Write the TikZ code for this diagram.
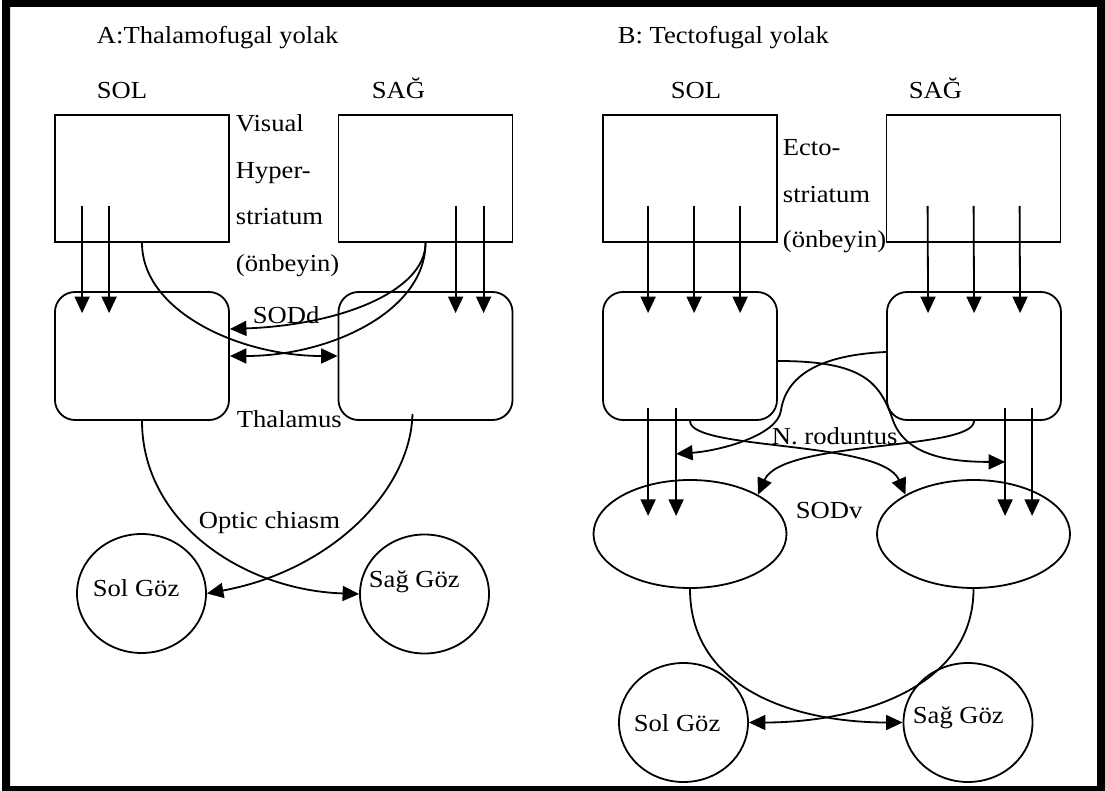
\documentclass[tikz,border=0pt]{standalone}
\usepackage{graphicx}
\usepackage{fontspec}
\setmainfont{Liberation Serif}
\usetikzlibrary{arrows.meta,calc,shapes.geometric}
% labels are set slightly condensed vertically
\newcommand{\sq}[1]{\scalebox{1}[0.92]{#1}}

\begin{document}
\begin{tikzpicture}[x=1pt,y=-1pt,line width=1.8pt,
  sqbox/.style={draw,rectangle,inner sep=0pt,minimum width=174pt,minimum height=127pt},
  rbox/.style={draw,rectangle,rounded corners=20pt,inner sep=0pt,minimum width=174pt,minimum height=128pt},
  oval/.style={draw,ellipse,inner sep=0pt,minimum width=193pt,minimum height=108pt},
  eye/.style={draw,ellipse,inner sep=0pt,minimum width=129pt,minimum height=119pt},
  lbl/.style={font=\fontsize{26.6}{30}\selectfont,inner sep=0pt,anchor=base west},
  arr/.style={-{Triangle[length=16.5pt,width=15pt]}}]

\useasboundingbox (0,0) rectangle (1105,791);
% heavy outer frame
\fill[even odd rule] (2,0) rectangle (1105,791) (10,7) rectangle (1097,786);

% ---------------- A: thalamofugal pathway ----------------
\node[sqbox] (LAtop) at (142,178.5) {};
\node[sqbox] (RAtop) at (425.5,178.5) {};
\node[rbox]  (LAth)  at (142,356) {};
\node[rbox]  (RAth)  at (425.5,356) {};
\node[eye]   (LAeye) at (141.5,593.5) {};
\node[eye]   (RAeye) at (424.5,594) {};

\node[lbl] (titleA) at (96,44)  {\sq{A:Thalamofugal yolak}};
\node[lbl] (solA)   at (96,99)  {\sq{SOL}};
\node[lbl] (sagA)   at (371,99) {\sq{SAĞ}};
\node[lbl] (visA)   at (235,132) {\sq{Visual}};
\node[lbl] (hypA)   at (235,179) {\sq{Hyper-}};
\node[lbl] (strA)   at (235,225) {\sq{striatum}};
\node[lbl] (onbA)   at (235,272) {\sq{(önbeyin)}};
\node[lbl] (sodd)   at (252,324) {\sq{SODd}};
\node[lbl] (thalA)  at (236,427) {\sq{Thalamus}};
\node[lbl] (optA)   at (198,528) {\sq{Optic chiasm}};
\node[lbl] (solgA)  at (92,596)  {\sq{Sol Göz}};
\node[lbl] (saggA)  at (368,587) {\sq{Sağ Göz}};

% projections from hyperstriatum to thalamus
\foreach \dx in {28,55}
  \draw[arr] ($(LAtop.south west)+(\dx,-37)$) -- ($(LAth.north west)+(\dx,22)$);
\foreach \dx in {118,146}
  \draw[arr] ($(RAtop.south west)+(\dx,-37)$) -- ($(RAth.north west)+(\dx,22)$);

% crossing (SODd) connections
\draw[arr] (LAtop.south) .. controls +(0,68) and +(-99,0) .. (RAth.west);
\draw[arr] (RAtop.south) .. controls +(0,48) and +(111,-4) .. ([yshift=27pt]LAth.east);
\draw[arr] (RAtop.south) .. controls +(0,68) and +(101,0) .. (LAth.east);

% optic chiasm
\draw[arr] (LAth.south) .. controls +(0,100) and +(-118,-4) .. (RAeye.west);
\draw[arr] ($(RAth.south)+(-13,-7)$) .. controls +(-2,77) and +(124,-23) .. (LAeye.east);

% ---------------- B: tectofugal pathway ----------------
\node[sqbox] (LBtop) at (690,178.5) {};
\node[sqbox] (RBtop) at (973.5,178.5) {};
\node[rbox]  (LBth)  at (690,356) {};
\node[rbox]  (RBth)  at (974,356) {};
\node[oval]  (LBov)  at (690,534) {};
\node[oval]  (RBov)  at (973.5,534) {};
\node[eye]   (LBeye) at (683.5,722.5) {};
\node[eye]   (RBeye) at (968,722.5) {};

\node[lbl] (titleB) at (617,44)  {\sq{B: Tectofugal yolak}};
\node[lbl] (solB)   at (670,99)  {\sq{SOL}};
\node[lbl] (sagB)   at (908,99)  {\sq{SAĞ}};
\node[lbl] (ectoB)  at (782,156) {\sq{Ecto-}};
\node[lbl] (strB)   at (782,203) {\sq{striatum}};
\node[lbl] (onbB)   at (782,248) {\sq{(önbeyin)}};
\node[lbl] (nrod)   at (771,444) {\sq{N. roduntus}};
\node[lbl] (sodv)   at (795,518) {\sq{SODv}};
\node[lbl] (solgB)  at (633,731) {\sq{Sol Göz}};
\node[lbl] (saggB)  at (912,723) {\sq{Sağ Göz}};

% projections from ectostriatum to rotundus
\foreach \dx in {46,92,138}
  \draw[arr] ($(LBtop.south west)+(\dx,-37)$) -- ($(LBth.north west)+(\dx,22)$);
\foreach \dx in {42,88,134}
  \draw[arr] ($(RBtop.south west)+(\dx,-37)$) -- ($(RBth.north west)+(\dx,22)$);

% projections from rotundus to tectum
\foreach \dx in {46,74}
  \draw[arr] ($(LBth.south west)+(\dx,-13)$) -- ($(LBth.south west)+(\dx,95)$);
\foreach \dx in {119,146}
  \draw[arr] ($(RBth.south west)+(\dx,-13)$) -- ($(RBth.south west)+(\dx,95)$);

% crossing rotundus connections
\draw[arr] ($(LBth.east)+(0,5)$) .. controls +(83,0) and +(-13,-37) ..
  ($(RBth.south west)+(6,-3)$) .. controls +(12,38) and +(-56,0) ..
  ($(RBth.south west)+(119,41)$);
\draw[arr] ($(RBth.west)+(0,-4)$) .. controls +(-67,3) and +(5,-35) ..
  ($(LBth.south east)+(3,-10)$) .. controls +(-4,25) and +(43,-3) ..
  ($(LBth.south west)+(74,33)$);

% SODv connections
\draw[arr] (LBth.south) .. controls +(0,30) and +(-24,-55) .. (RBov.150);
\draw[arr] (RBth.south) .. controls +(0,30) and +(24,-55) .. (LBov.30);

% optic chiasm
\draw[arr] (LBov.south) .. controls +(0,102) and +(-104,0) .. (RBeye.west);
\draw[arr] (RBov.south) .. controls +(0,102) and +(104,0) .. (LBeye.east);

\end{tikzpicture}
\end{document}
